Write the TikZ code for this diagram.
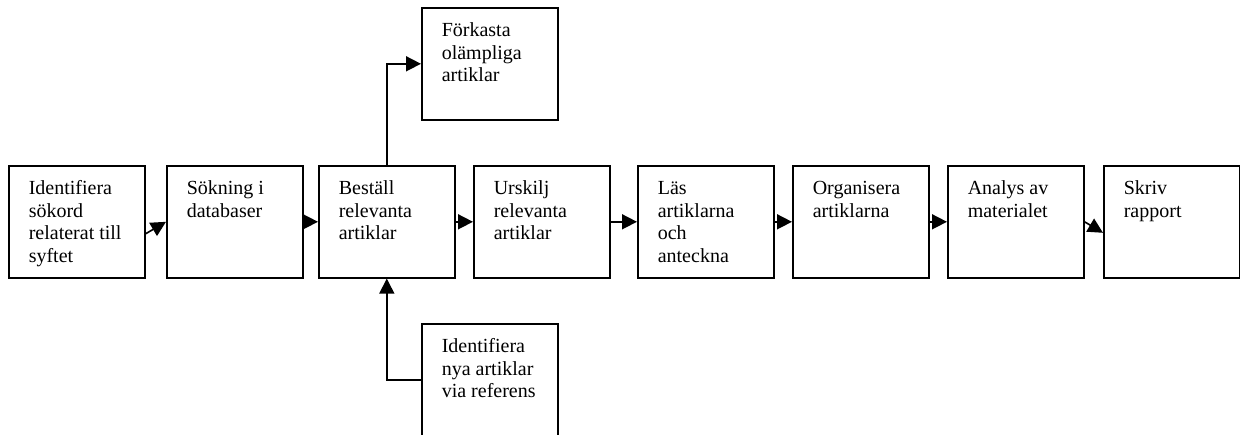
\documentclass[tikz,border=0pt]{standalone}
\usepackage{fontspec}
\setmainfont{Liberation Serif}
\usetikzlibrary{arrows.meta,positioning,calc}

% text in a box starts at the top left corner
\newcommand{\boxtext}[1]{\parbox[t][86pt][t]{136pt}{\raggedright\leftskip=20pt\strut #1}}

\tikzset{
  stepbox/.style={draw, line width=1.6pt, anchor=north west, inner xsep=0pt, inner ysep=13pt,
    minimum width=136pt, minimum height=112pt, font=\fontsize{20}{22.5}\selectfont},
  flow/.style={-{Triangle[length=15pt,width=15pt]}, line width=1.6pt}
}

\begin{document}
\begin{tikzpicture}[x=1pt,y=-1pt]
  % y runs downwards, as in the page
  \useasboundingbox (0,0) rectangle (1240,434);
  \clip (0,0) rectangle (1240,434);

  \node[stepbox] (sok) at (8,165) {\boxtext{Identifiera\\sökord\\relaterat till\\syftet}};
  \node[stepbox] (db) at (166,165) {\boxtext{Sökning i\\databaser}};
  \node[stepbox] (best) at (318,165) {\boxtext{Beställ\\relevanta\\artiklar}};
  \node[stepbox] (ursk) at (473,165) {\boxtext{Urskilj\\relevanta\\artiklar}};
  \node[stepbox] (las) at (637,165) {\boxtext{Läs\\artiklarna\\och\\anteckna}};
  \node[stepbox] (org) at (792,165) {\boxtext{Organisera\\artiklarna}};
  \node[stepbox] (anal) at (947,165) {\boxtext{Analys av\\materialet}};
  \node[stepbox] (rapp) at (1103,165) {\boxtext{Skriv\\rapport}};

  \node[stepbox] (fork) at (421,7) {\boxtext{Förkasta\\olämpliga\\artiklar}};
  \node[stepbox] (nya) at (421,323) {\boxtext{Identifiera\\nya artiklar\\via referens}};

  \draw[flow] ($(sok.east)+(0,12)$) -- (db.west);
  \draw[flow] (db) -- (best);
  \draw[flow] (best) -- (ursk);
  \draw[flow] (ursk) -- (las);
  \draw[flow] (las) -- (org);
  \draw[flow] (org) -- (anal);
  \draw[flow] (anal.east) -- ($(rapp.west)+(0,11)$);

  \draw[flow] (best.north) |- (fork.west);
  \draw[flow] (nya.west) -| (best.south);
\end{tikzpicture}
\end{document}
